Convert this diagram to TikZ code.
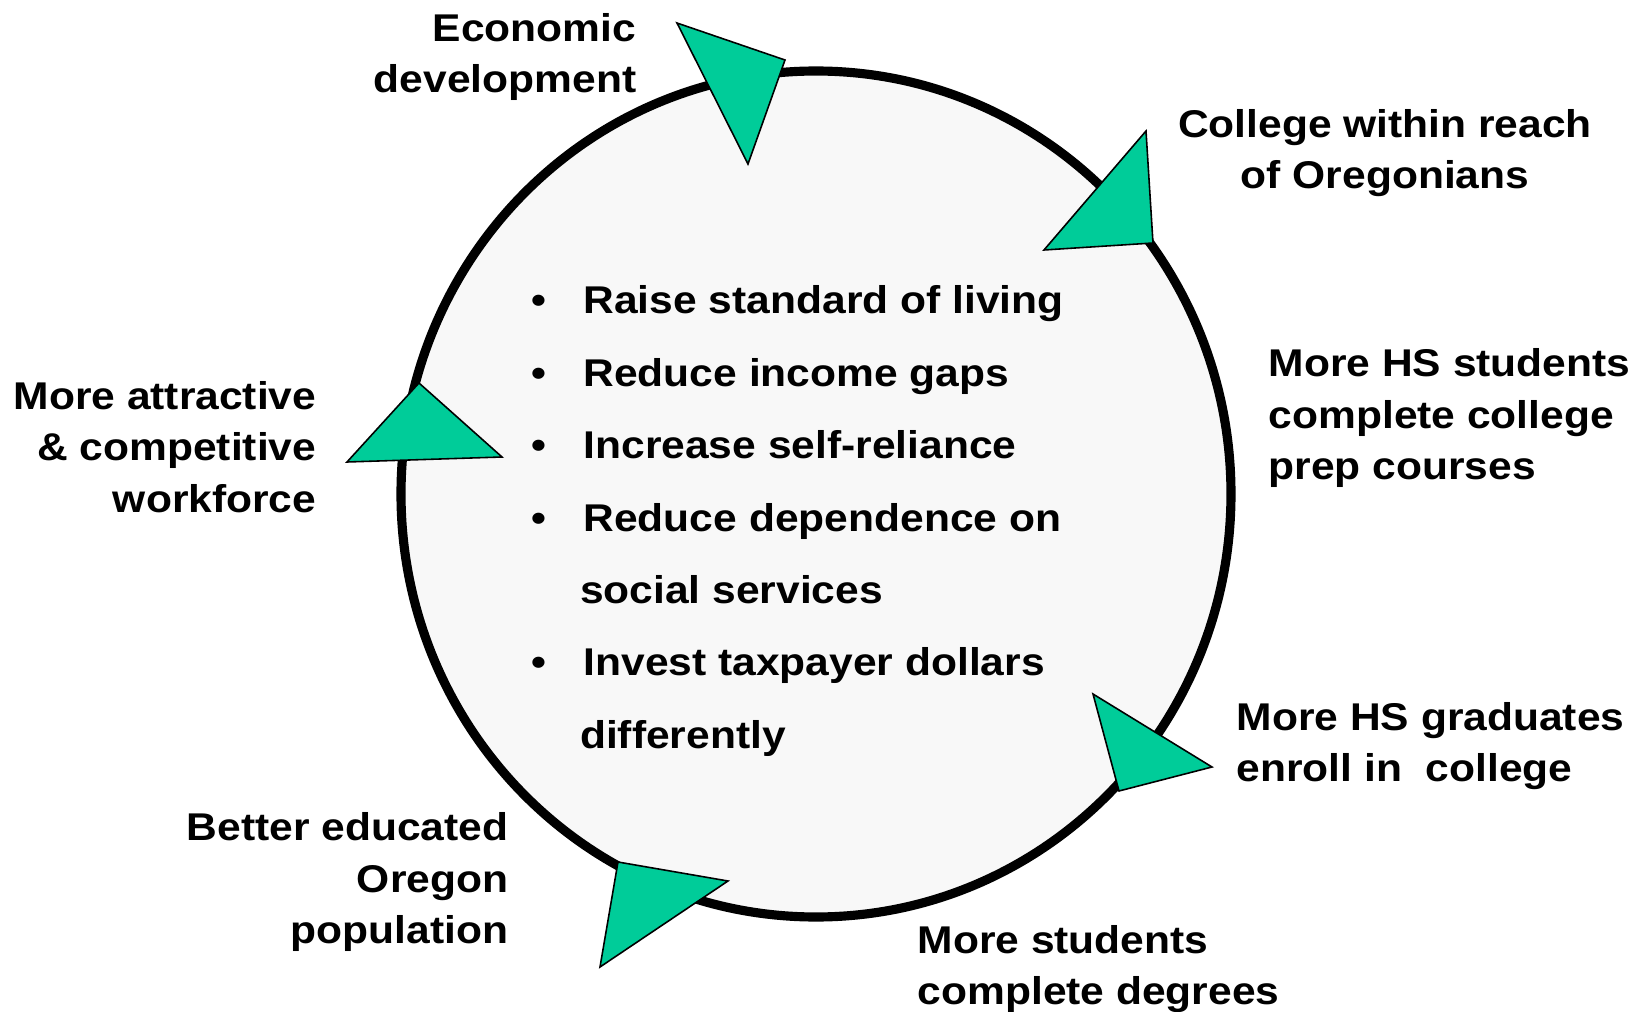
\documentclass[tikz,border=0pt]{standalone}
\usepackage{fontspec}
\setmainfont[FakeStretch=1.1]{Liberation Sans}
\usetikzlibrary{positioning}
\definecolor{arrowgreen}{RGB}{0,204,153}
\definecolor{ringfill}{RGB}{248,248,248}
\newcommand{\goalgap}{\hspace{0.37cm}}
\newcommand{\goalcont}{\hphantom{\textbullet}\hspace{0.335cm}}

\begin{document}
\begin{tikzpicture}[x=0.01cm,y=-0.01cm,
    stagetext/.style={font=\fontsize{11pt}{14.6pt}\selectfont\bfseries, inner sep=0pt},
    goaltext/.style={font=\fontsize{11pt}{20.6pt}\selectfont\bfseries, inner sep=0pt, align=left},
    ringarrow/.style={fill=arrowgreen, draw=black, line width=0.45pt, line join=miter}]

\useasboundingbox (0,0) rectangle (1647,1012);

\edef\cx{816}
\edef\cy{494}

% the cycle
\filldraw[fill=ringfill, draw=black, line width=2.6pt] (\cx,\cy) ellipse [x radius=415, y radius=423];

% arrow heads sitting on the ring
\filldraw[ringarrow] (677,23) -- (785,60) -- (748,164) -- cycle;
\filldraw[ringarrow] (1146,131) -- (1153,243) -- (1044,250) -- cycle;
\filldraw[ringarrow] (1093,694) -- (1212,767) -- (1119,791) -- cycle;
\filldraw[ringarrow] (618,862) -- (728,881) -- (600,967) -- cycle;
\filldraw[ringarrow] (419,383) -- (502,457) -- (347,462) -- cycle;

% stages round the cycle
\node[stagetext, anchor=east, align=right] (econ) at (637,57) {Economic\\development};
\node[stagetext, align=center] (reach) at (1385,153) {College within reach\\of Oregonians};
\node[stagetext, anchor=west, align=left] (prep) at (1268,418) {More HS students\\complete college\\prep courses};
\node[stagetext, anchor=west, align=left] (enroll) at (1236,746) {More HS graduates\\enroll in\ \ college};
\node[stagetext, anchor=west, align=left] (degrees) at (917,969) {More students\\complete degrees};
\node[stagetext, anchor=east, align=right] (population) at (509,882) {Better educated\\Oregon\\population};
\node[stagetext, anchor=east, align=right] (workforce) at (317,447) {More attractive\\\& competitive\\workforce};

% goals inside
\node[goaltext, anchor=north west] (goals) at (531,285)
{\textbullet\goalgap Raise standard of living\\
 \textbullet\goalgap Reduce income gaps\\
 \textbullet\goalgap Increase self-reliance\\
 \textbullet\goalgap Reduce dependence on\\
 \goalcont social services\\
 \textbullet\goalgap Invest taxpayer dollars\\
 \goalcont differently};
\end{tikzpicture}
\end{document}
